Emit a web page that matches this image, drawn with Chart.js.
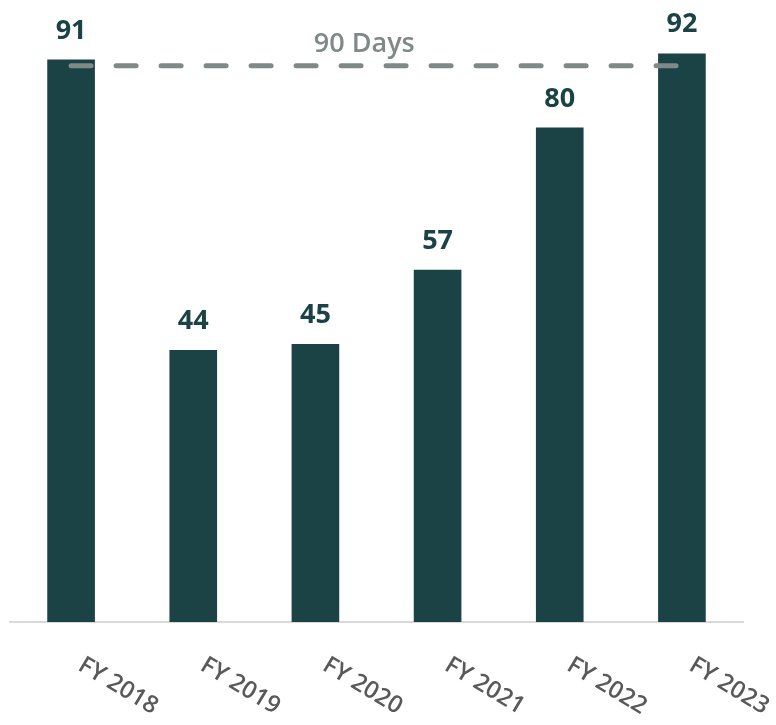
<!DOCTYPE html>
<html>
<head>
<meta charset="utf-8">
<script src="https://cdn.jsdelivr.net/npm/chart.js@4.4.1/dist/chart.umd.min.js"></script>
<style>
  html, body { margin: 0; padding: 0; background: #ffffff; }
  #wrap { width: 776px; height: 725px; }
</style>
</head>
<body>
<div id="wrap"><canvas id="chartCanvas" width="776" height="725"></canvas></div>
<script>
// fiscal years and days per year
const years = ["FY 2018", "FY 2019", "FY 2020", "FY 2021", "FY 2022", "FY 2023"];
const days = [91, 44, 45, 57, 80, 92];
// 90-day target line
const targetDays = 90;
const targetLabel = "90 Days";

const barColor = "#1b4245";
const targetColor = "#7f8987";

// value above each bar + target caption + slanted year labels
const labelPlugin = {
  id: "labels",
  afterDatasetsDraw(chart) {
    const ctx = chart.ctx;
    const xs = chart.scales.x;
    const ys = chart.scales.y;
    ctx.save();

    // numbers above bars
    const bars = chart.getDatasetMeta(1).data;
    ctx.fillStyle = barColor;
    ctx.font = "bold 27px 'Open Sans'";
    ctx.textAlign = "center";
    ctx.textBaseline = "alphabetic";
    bars.forEach((bar, i) => {
      ctx.fillText(String(days[i]), bar.x, bar.y - 21);
    });

    // caption for the dashed line
    ctx.fillStyle = targetColor;
    ctx.font = "600 27px 'Open Sans'";
    ctx.fillText(targetLabel, xs.getPixelForValue(2.4), ys.getPixelForValue(targetDays) - 14);

    // year labels, tilted downwards
    ctx.fillStyle = "#595959";
    ctx.font = "600 24px 'Open Sans'";
    ctx.textBaseline = "middle";
    years.forEach((y, i) => {
      const cx = xs.getPixelForValue(i) + 47;
      ctx.save();
      ctx.translate(cx, 686);
      ctx.rotate(Math.PI / 5.8);
      ctx.fillText(y, 0, 0);
      ctx.restore();
    });
    ctx.restore();
  }
};

new Chart(document.getElementById("chartCanvas").getContext("2d"), {
  data: {
    labels: years,
    datasets: [
      {
        type: "line",
        data: years.map(() => targetDays),
        borderColor: targetColor,
        borderWidth: 5,
        borderDash: [20, 25],
        borderCapStyle: "round",
        pointRadius: 0,
        fill: false,
        order: 0
      },
      {
        type: "bar",
        data: days,
        backgroundColor: barColor,
        categoryPercentage: 1,
        barPercentage: 0.39,
        order: 1
      }
    ]
  },
  options: {
    responsive: false,
    animation: false,
    layout: { padding: { left: 10, right: 33, top: 4, bottom: 95 } },
    plugins: {
      legend: { display: false },
      tooltip: { enabled: false }
    },
    scales: {
      x: {
        grid: { display: false },
        border: { display: true, color: "#d9d9d9", width: 2 },
        ticks: { display: false }
      },
      y: {
        display: false,
        min: 0,
        max: 100
      }
    }
  },
  plugins: [labelPlugin]
});
</script>
</body>
</html>
